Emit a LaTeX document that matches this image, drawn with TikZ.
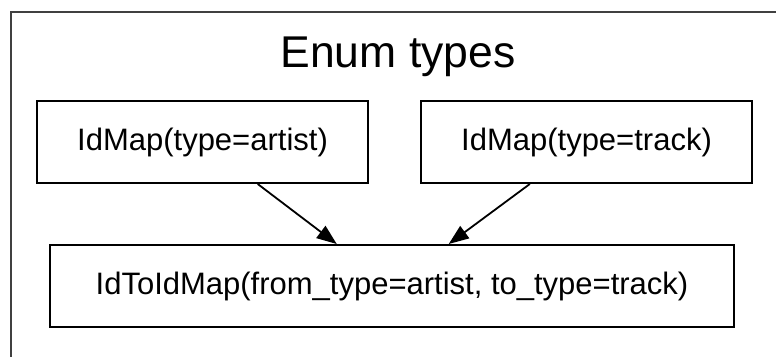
\documentclass[tikz,border=0pt]{standalone}
\usepackage{fontspec}
\setmainfont{Liberation Sans}
\usetikzlibrary{arrows.meta}
\begin{document}
\begin{tikzpicture}[x=1pt, y=1pt, every node/.style={font=\fontsize{31}{36}\selectfont}, mapbox/.style={draw,line width=2pt,minimum height=82pt,inner sep=0pt}]
\useasboundingbox (0,0) rectangle (776,-356);
\draw[line width=2pt,black!75] (790,-12) -| (11,-370);
\node[anchor=base,font=\fontsize{44.5}{50}\selectfont] (title) at (398,-67) {Enum types};
\node[mapbox,minimum width=331pt] (artist) at (202.5,-142) {IdMap(type=artist)};
\node[mapbox,minimum width=331pt] (track) at (586.5,-142) {IdMap(type=track)};
\node[mapbox,minimum width=684pt] (pair) at (392,-286) {IdToIdMap(from\_type=artist, to\_type=track)};
\draw[-{Triangle[length=20pt,width=15pt]},line width=1.8pt] (artist) -- (pair);
\draw[-{Triangle[length=20pt,width=15pt]},line width=1.8pt] (track) -- (pair);
\end{tikzpicture}
\end{document}
